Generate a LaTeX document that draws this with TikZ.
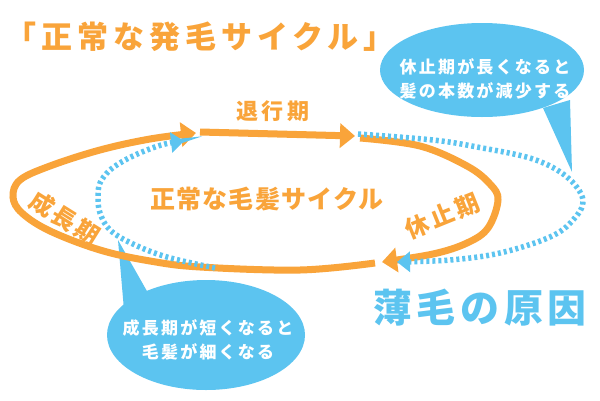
\documentclass[tikz,border=0pt]{standalone}
\usepackage{fontspec}
\setmainfont{Noto Sans CJK JP}[BoldFont={* Black}]
\usetikzlibrary{arrows.meta,shapes.geometric}
\definecolor{myorange}{HTML}{F9A43A}
\definecolor{myblue}{HTML}{5CC4F0}
\newcommand\jpfont[2]{\bfseries\fontsize{#1}{#1}\selectfont\addfontfeature{LetterSpace=#2}}
\tikzset{
  orangeline/.style={draw=myorange, line width=7pt},
  bluedot/.style={draw=myblue, line width=5.5pt, dash pattern=on 3pt off 3pt},
  otip/.style={-{Triangle[length=15pt,width=24pt]}},
  btip/.style={-{Triangle[length=13pt,width=20pt]}},
  olabel/.style={text=myorange, inner sep=0pt},
  bubble/.style={ellipse, fill=myblue, inner sep=0pt},
  btext/.style={text=white, align=center, inner sep=0pt, font=\jpfont{17}{13}\fontsize{17}{24}\selectfont},
}
\begin{document}
\begin{tikzpicture}[x=1pt,y=-1pt]
\useasboundingbox (0,0) rectangle (600,400);
\fill[white] (0,0) rectangle (600,400);

% title
\node[olabel, font=\jpfont{31}{16}] (title) at (200,37) {「正常な発毛サイクル」};

% bubbles
\node[bubble, minimum width=204pt, minimum height=94pt] (b1) at (482,70) {};
\fill[myblue] (543,108) -- (572,172) -- (570,100) -- cycle;
\node[btext] (t1) at (485,79) {休止期が長くなると\\髪の本数が減少する};

\node[bubble, minimum width=198pt, minimum height=110pt] (b2) at (206,335) {};
\fill[myblue] (124,310) -- (118,240) -- (152,300) -- cycle;
\node[btext] (t2) at (208,340) {成長期が短くなると\\毛髪が細くなる};

% orange cycle
\draw[orangeline, otip] plot[smooth, tension=0.6] coordinates {
  (375,263) (300,270) (200,267) (150,261) (100,250) (50,231) (22,213) (13,197)
  (20,180) (50,166) (100,150) (150,139) (196,133)};
\draw[orangeline, otip] (200,132) -- (355,136);
\draw[orangeline, otip] plot[smooth, tension=0.6] coordinates {
  (360,138) (420,146) (467,166) (490,184) (498,200) (488,228) (467,243) (433,254) (382,262)};

% blue dotted paths
\draw[bluedot, btip] plot[smooth, tension=0.6] coordinates {
  (358,134) (433,140) (477,147) (533,159) (567,177) (583,200) (573,220) (550,237)
  (500,253) (450,260) (397,262)};
\draw[bluedot, btip] plot[smooth, tension=0.6] coordinates {
  (215,268) (167,257) (133,244) (110,230) (100,213) (98,197) (100,183) (110,170)
  (127,159) (147,150) (165,144) (184,141)};

% labels
\node[olabel, font=\jpfont{22}{18}] (l1) at (273,111) {退行期};
\node[olabel, font=\jpfont{24}{12}, rotate=-32] (l2) at (65,218) {成長期};
\node[olabel, font=\jpfont{24}{12}, rotate=22] (l3) at (442,216) {休止期};
\node[olabel, font=\jpfont{25}{5}] (l4) at (267,199) {正常な毛髪サイクル};
\node[text=myblue, inner sep=0pt, font=\jpfont{39}{12}] (l5) at (480,308) {薄毛の原因};
\end{tikzpicture}
\end{document}
